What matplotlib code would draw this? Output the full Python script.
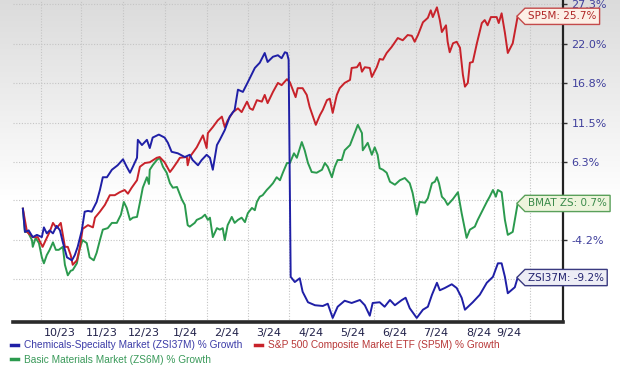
import numpy as np
import matplotlib
matplotlib.use("Agg")
import matplotlib.pyplot as plt
from matplotlib.path import Path
from matplotlib.lines import Line2D

plt.rcParams['axes.unicode_minus'] = False

# ---- data (x in months since 1 Sep 2023, values in % growth) ----
chem_x = [0.56,0.61,0.70,0.80,0.90,1.02,1.07,1.14,1.21,1.29,1.38,1.46,1.53,1.63,1.75,1.82,1.89,1.99,
          2.06,2.14,2.23,2.35,2.43,2.50,2.60,2.72,2.86,2.99,3.08,3.16,3.23,3.33,3.35,3.45,3.57,3.64,
          3.71,3.86,4.00,4.08,4.17,4.32,4.49,4.61,4.68,4.81,4.90,5.02,5.10,5.17,5.27,5.34,5.46,5.58,
          5.70,5.78,5.90,6.02,6.19,6.31,6.43,6.50,6.63,6.75,6.84,6.92,6.97,7.01,7.06,7.16,7.28,7.35,
          7.48,7.65,7.84,7.96,8.08,8.20,8.37,8.54,8.74,8.86,8.98,9.05,9.22,9.34,9.47,9.59,9.76,9.85,
          9.95,10.12,10.27,10.39,10.49,10.61,10.68,10.80,10.97,11.09,11.21,11.29,11.48,11.65,11.82,
          11.97,12.09,12.18,12.26,12.33,12.50,12.57]
chem_v = [0.0,-3.1,-2.9,-3.8,-3.5,-3.8,-2.5,-3.3,-2.9,-3.3,-2.3,-2.9,-4.5,-6.5,-6.9,-6.2,-5.1,-2.9,
          -0.4,-0.3,-0.4,0.9,2.5,4.2,4.2,5.2,5.8,6.6,5.6,4.8,5.6,6.8,9.2,8.5,9.2,8.1,
          9.5,9.9,9.5,8.8,7.6,7.4,6.9,7.2,6.5,5.8,6.5,7.2,6.8,5.2,8.5,9.2,10.5,12.3,
          13.2,15.9,15.6,16.9,18.8,19.5,20.8,19.6,20.3,20.5,20.1,20.9,20.8,19.9,-9.1,-9.8,-9.3,-11.1,
          -12.5,-12.9,-13.0,-12.7,-14.6,-13.1,-12.3,-12.6,-12.2,-12.9,-14.3,-12.6,-12.5,-13.1,-12.2,-12.9,-12.2,-11.9,
          -13.3,-14.6,-13.5,-13.1,-11.5,-9.9,-10.9,-10.6,-10.1,-10.6,-11.9,-13.5,-12.5,-11.5,-9.9,
          -9.1,-7.3,-7.3,-9.1,-11.3,-10.5,-9.2]

sp_x = [0.56,0.66,0.80,0.92,1.04,1.14,1.21,1.29,1.38,1.48,1.58,1.65,1.72,1.77,1.87,1.94,2.01,2.14,
        2.26,2.31,2.43,2.55,2.67,2.79,2.91,3.03,3.11,3.20,3.33,3.40,3.52,3.64,3.81,3.88,4.00,4.13,
        4.20,4.30,4.37,4.54,4.56,4.61,4.78,4.93,5.02,5.05,5.17,5.29,5.39,5.46,5.53,5.66,5.78,5.87,
        6.00,6.07,6.14,6.24,6.36,6.43,6.50,6.63,6.75,6.84,6.97,7.04,7.11,7.18,7.23,7.35,7.45,7.52,
        7.67,7.77,7.84,7.94,8.01,8.08,8.18,8.25,8.37,8.50,8.54,8.67,8.74,8.79,8.86,8.98,9.03,9.15,
        9.22,9.30,9.39,9.51,9.66,9.78,9.90,10.00,10.07,10.15,10.27,10.39,10.46,10.51,10.61,10.68,
        10.73,10.83,10.87,10.92,11.00,11.09,11.17,11.24,11.29,11.36,11.41,11.48,11.58,11.70,11.77,
        11.84,11.92,12.06,12.11,12.18,12.26,12.33,12.45,12.57]
sp_v = [0.0,-3.1,-3.8,-3.8,-5.1,-3.9,-3.1,-1.9,-2.6,-1.9,-5.1,-5.1,-6.2,-7.5,-6.9,-5.3,-2.7,-2.2,
        -2.5,-1.2,-0.4,0.5,1.8,1.8,2.2,2.5,2.0,2.8,3.8,5.6,6.1,6.2,6.8,6.9,6.2,4.9,
        5.4,6.2,6.8,6.9,5.8,6.9,8.2,9.8,8.1,10.1,10.9,11.8,12.3,10.9,11.8,12.9,13.4,12.9,
        14.3,13.4,13.2,14.5,14.3,15.2,14.1,15.6,16.8,16.5,17.3,16.9,15.9,14.9,16.1,16.1,15.2,13.6,
        11.2,12.5,13.2,14.5,14.7,12.8,15.2,16.1,16.8,17.2,18.8,18.9,19.5,18.3,18.9,18.8,17.6,18.9,
        20.0,19.9,20.8,21.6,22.8,22.5,23.2,23.1,22.3,23.2,24.9,25.5,26.5,25.6,26.9,25.2,
        23.6,24.5,22.3,20.9,22.1,22.3,21.5,17.9,16.3,16.8,19.5,19.6,22.1,24.8,25.2,
        24.5,25.6,25.6,24.8,26.1,23.5,20.8,22.1,25.7]

bm_x = [0.56,0.61,0.68,0.78,0.80,0.87,0.95,1.02,1.07,1.14,1.21,1.29,1.36,1.43,1.53,1.58,1.65,1.72,
        1.77,1.87,1.94,2.01,2.11,2.18,2.28,2.35,2.43,2.50,2.62,2.72,2.84,2.94,3.01,3.08,3.16,3.23,
        3.33,3.40,3.47,3.57,3.62,3.64,3.71,3.81,3.88,3.96,4.05,4.13,4.20,4.30,4.42,4.49,4.56,4.61,
        4.73,4.78,4.90,4.98,5.05,5.10,5.17,5.27,5.34,5.41,5.46,5.53,5.63,5.70,5.78,5.87,5.95,6.02,
        6.12,6.19,6.24,6.31,6.38,6.48,6.55,6.63,6.72,6.80,6.87,6.97,7.04,7.14,7.21,7.33,7.40,7.48,
        7.57,7.69,7.82,7.89,7.96,8.06,8.13,8.20,8.30,8.37,8.50,8.62,8.69,8.79,8.81,8.93,9.03,9.10,
        9.17,9.22,9.30,9.39,9.47,9.59,9.71,9.83,9.95,10.02,10.12,10.19,10.32,10.39,10.49,10.56,
        10.61,10.66,10.73,10.80,10.87,11.00,11.12,11.21,11.29,11.33,11.41,11.53,11.60,11.72,11.82,
        11.89,11.97,12.04,12.09,12.18,12.26,12.33,12.45,12.57]
bm_v = [0.0,-3.1,-3.1,-4.2,-5.1,-3.9,-4.6,-6.5,-7.3,-6.2,-5.5,-4.5,-5.5,-5.5,-5.1,-7.5,-8.9,-8.3,
        -8.2,-7.3,-5.3,-4.2,-4.6,-6.5,-6.9,-5.9,-4.2,-2.8,-2.6,-1.9,-1.9,-0.8,0.9,0.1,-1.5,-1.2,
        -1.1,0.8,2.8,4.2,3.3,5.2,5.8,6.5,6.8,5.6,4.8,3.4,2.8,2.9,1.2,0.5,-2.2,-2.4,
        -1.9,-1.5,-1.2,-0.8,-1.5,-1.2,-3.8,-2.6,-2.8,-2.6,-4.2,-2.2,-1.1,-1.9,-1.5,-1.2,-1.8,-0.6,
        0.1,-0.2,0.9,1.6,1.8,2.5,2.9,3.4,4.2,3.8,4.8,6.1,6.1,7.4,6.8,8.9,7.8,6.1,
        4.9,4.8,5.2,6.1,5.6,4.2,5.6,6.5,6.5,7.8,8.5,10.2,11.2,10.1,7.8,8.8,7.2,8.2,
        7.2,5.4,5.2,4.8,3.6,3.2,3.8,4.1,3.4,2.1,-0.8,0.9,0.8,1.4,3.4,3.6,
        4.2,3.4,1.6,1.2,0.5,1.3,2.2,-0.6,-2.8,-3.9,-2.8,-2.4,-1.5,-0.2,0.9,
        1.6,2.5,1.6,2.5,2.2,-1.5,-3.5,-3.1,0.7]

series_names = ["Chemicals-Specialty Market (ZSI37M) % Growth",
                "Basic Materials Market (ZS6M) % Growth",
                "S&P 500 Composite Market ETF (SP5M) % Growth"]
end_labels = ["ZSI37M: -9.2%", "BMAT ZS: 0.7%", "SP5M: 25.7%"]

y_ticks = [27.3, 22.0, 16.8, 11.5, 6.3, 1.1, -4.2, -9.4]
# labels at 1.1% and -9.4% sit under the end-value tags in the reference
y_tick_labels = ["27.3%", "22.0%", "16.8%", "11.5%", "6.3%", "", "-4.2%", ""]
x_label_pos = [1.46, 2.48, 3.50, 4.50, 5.51, 6.53, 7.55, 8.57, 9.59, 10.58, 11.63, 12.36]
x_labels = ["10/23", "11/23", "12/23", "1/24", "2/24", "3/24", "4/24", "5/24",
            "6/24", "7/24", "8/24", "9/24"]
x_grid_pos = [1.0, 1.97, 2.99, 4.0, 5.02, 6.02, 7.01, 8.06, 9.08, 10.10, 11.12, 11.99, 12.86]

# ---- styling ----
c_blue, c_red, c_green = "#1f1fa6", "#c8222a", "#2b9a4e"
t_blue, t_red, t_green = "#3c3ca8", "#b83838", "#3a9a5a"

fig = plt.figure(figsize=(6.2, 3.7), dpi=100)

# background gradient (gray at top fading to white)
bg = fig.add_axes([0, 0, 1, 1], zorder=-10)
bg.axis("off")
rows = 370
g = np.clip(0.86 + 0.14 * np.arange(rows) / 200.0, 0, 1)
grad = np.repeat(g[:, None], 2, axis=1)
bg.imshow(np.dstack([grad, grad, grad]), aspect="auto", extent=[0, 1, 0, 1],
          transform=bg.transAxes, interpolation="bilinear")

ax = fig.add_axes([13/620, 1 - 322/370, (563-13)/620, 322/370])
ax.set_facecolor("none")
ax.set_xlim(0.32, 13.67)
ax.set_ylim(-15.14, 27.88)

ax.plot(bm_x, bm_v, color=c_green, lw=1.4, zorder=3)
ax.plot(sp_x, sp_v, color=c_red, lw=1.4, zorder=3)
ax.plot(chem_x, chem_v, color=c_blue, lw=1.4, zorder=4)

# axes / spines
for s in ("left", "top"):
    ax.spines[s].set_visible(False)
ax.spines["right"].set_color("#222222")
ax.spines["right"].set_linewidth(1.6)
ax.spines["bottom"].set_color("#2a2a2a")
ax.spines["bottom"].set_linewidth(2.6)

ax.yaxis.tick_right()
ax.set_yticks(y_ticks)
ax.set_yticklabels(y_tick_labels)
ax.tick_params(axis="y", direction="out", length=3, width=1, color="#333333",
               labelsize=8, labelcolor="#3f3f9c", pad=3)

ax.set_xticks(x_label_pos)
ax.set_xticklabels(x_labels)
ax.set_xticks(x_grid_pos, minor=True)
ax.tick_params(axis="x", which="both", length=0, labelsize=8, labelcolor="#22224a", pad=4)

ax.grid(axis="y", which="major", color="#c4c4c4", linestyle=(0, (1, 1.5)), lw=0.8)
ax.grid(axis="x", which="minor", color="#c4c4c4", linestyle=(0, (1, 1.5)), lw=0.8)
ax.set_axisbelow(True)

# tag-shaped end labels
def tag_box(x0, y0, width, height, mutation_size):
    pad = 0.3 * mutation_size
    x0 -= pad
    y0 -= pad
    w = width + 2 * pad
    h = height + 2 * pad
    tip = h * 0.5
    verts = [(x0, y0), (x0 + w, y0), (x0 + w, y0 + h), (x0, y0 + h),
             (x0 - tip, y0 + h / 2), (x0, y0)]
    return Path(verts, closed=True)

end_specs = [
    (chem_x, chem_v, end_labels[0], "#22226e", "#ededf5", "#3a3a80"),
    (bm_x, bm_v, end_labels[1], "#3a8a4a", "#eef4dc", "#5aa05a"),
    (sp_x, sp_v, end_labels[2], "#b02626", "#fcefe6", "#c44a4a"),
]
for xs, vs, lab, tc, fc, ec in end_specs:
    ax.annotate(lab, xy=(xs[-1], vs[-1]), xytext=(7.5, 0), textcoords="offset points",
                ha="left", va="center", fontsize=7.5, color=tc, zorder=10,
                annotation_clip=False,
                bbox=dict(boxstyle=tag_box, fc=fc, ec=ec, lw=1.0))

# legend
handles = [Line2D([], [], color=c_blue, lw=2.5),
           Line2D([], [], color=c_green, lw=2.5),
           Line2D([], [], color=c_red, lw=2.5)]
leg = fig.legend(handles, series_names, loc="upper left",
                 bbox_to_anchor=(4/620, 1 - 333/370), ncol=2, frameon=False,
                 handlelength=0.7, handletextpad=0.6, columnspacing=1.2,
                 labelspacing=0.45, borderpad=0.2,
                 prop={"family": ["Liberation Sans", "DejaVu Sans"], "size": 7.3})
for txt, col in zip(leg.get_texts(), [t_blue, t_green, t_red]):
    txt.set_color(col)

fig.savefig("out.png", dpi=100)
